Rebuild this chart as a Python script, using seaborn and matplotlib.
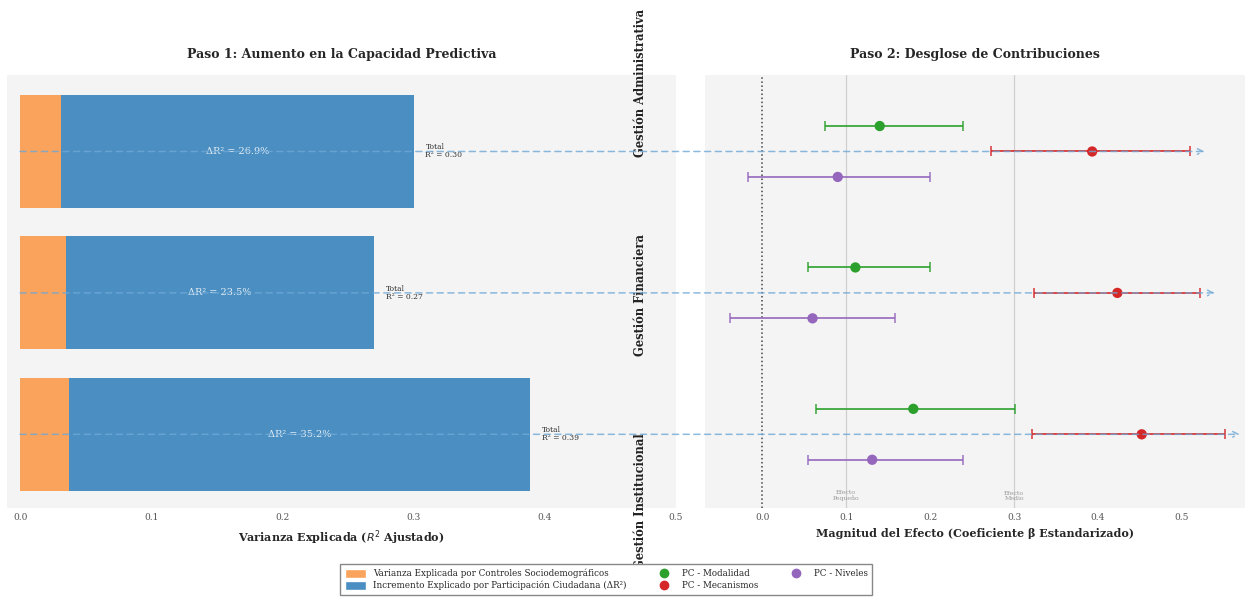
import matplotlib
matplotlib.use("Agg")
import matplotlib.pyplot as plt
from matplotlib.patches import ConnectionPatch, Patch
from matplotlib.lines import Line2D
import seaborn as sns
import pandas as pd
import numpy as np

# ---------------- data ----------------
dimensions = ["Gestión Administrativa", "Gestión Financiera", "Gestión Institucional"]
r2_controls = [0.031, 0.035, 0.037]
r2_total = [0.300, 0.270, 0.389]
delta_labels = ["26.9%", "23.5%", "35.2%"]
total_labels = ["0.30", "0.27", "0.39"]

beta_modalidad = [0.140, 0.111, 0.180]
ci_modalidad_lo = [0.075, 0.055, 0.064]
ci_modalidad_hi = [0.239, 0.200, 0.301]

beta_mecanismos = [0.393, 0.423, 0.452]
ci_mecanismos_lo = [0.273, 0.324, 0.321]
ci_mecanismos_hi = [0.510, 0.521, 0.551]

beta_niveles = [0.090, 0.060, 0.131]
ci_niveles_lo = [-0.017, -0.038, 0.055]
ci_niveles_hi = [0.200, 0.158, 0.239]

arrow_end = [0.527, 0.539, 0.569]

ref_lines = [0.1, 0.3]
ref_labels = ["Efecto\nPequeño", "Efecto\nMedio"]

# ---------------- style ----------------
sns.set_style("white", {"axes.facecolor": "#f4f4f4", "axes.edgecolor": "#f4f4f4"})
plt.rcParams["font.family"] = ["DejaVu Serif"]

C_ORANGE = "#f9a35c"
C_BLUE = "#4a8ec2"
C_GREEN = "#2ca02c"
C_RED = "#d62728"
C_PURPLE = "#9467bd"

fig = plt.figure(figsize=(12.47, 6.01), dpi=100)
ax1 = fig.add_axes([0.0056, 0.155, 0.5365, 0.72])
ax2 = fig.add_axes([0.5654, 0.155, 0.4330, 0.72])

df = pd.DataFrame({"dim": dimensions, "total": r2_total, "ctrl": r2_controls})

sns.barplot(data=df, y="dim", x="total", orient="h", color=C_BLUE,
            width=0.8, ax=ax1, saturation=1)
sns.barplot(data=df, y="dim", x="ctrl", orient="h", color=C_ORANGE,
            width=0.8, ax=ax1, saturation=1)
for p in ax1.patches:
    p.set_edgecolor("none")

for i in range(len(dimensions)):
    mid = (r2_controls[i] + r2_total[i]) / 2
    ax1.text(mid, i, f"ΔR² = {delta_labels[i]}", ha="center", va="center",
             color="white", fontsize=7, alpha=0.85)
    ax1.text(r2_total[i] + 0.009, i, f"Total\nR² = {total_labels[i]}", ha="left",
             va="center", color="#333333", fontsize=5.5, linespacing=1.0)

ax1.set_xlim(-0.01, 0.5)
ax1.set_ylim(2.52, -0.54)
ax1.set_yticks([])
ax1.set_ylabel("")
ax1.set_xticks([0, 0.1, 0.2, 0.3, 0.4, 0.5])
ax1.tick_params(axis="x", labelsize=6.5, colors="#555555", length=0, pad=4)
ax1.set_xlabel("Varianza Explicada ($R^2$ Ajustado)", fontsize=8, fontweight="bold",
               labelpad=4)
ax1.set_title("Paso 1: Aumento en la Capacidad Predictiva", fontsize=9,
              fontweight="bold", pad=12)
ax1.grid(False)
for s in ax1.spines.values():
    s.set_visible(False)

# ---------------- right panel ----------------
off = 0.18
ys = np.arange(len(dimensions))
series = [
    (beta_modalidad, ci_modalidad_lo, ci_modalidad_hi, C_GREEN, -off),
    (beta_mecanismos, ci_mecanismos_lo, ci_mecanismos_hi, C_RED, 0.0),
    (beta_niveles, ci_niveles_lo, ci_niveles_hi, C_PURPLE, off),
]
for vals, lo, hi, col, o in series:
    vals = np.array(vals); lo = np.array(lo); hi = np.array(hi)
    ax2.errorbar(vals, ys + o, xerr=[vals - lo, hi - vals], fmt="none",
                 ecolor=col, elinewidth=1.4, capsize=3.5, capthick=1.2, alpha=0.85,
                 zorder=4)
    sns.scatterplot(x=vals, y=ys + o, color=col, s=55, edgecolor="none",
                    ax=ax2, zorder=5, legend=False)

ax2.axvline(0, color="#444444", ls=":", lw=1.1, zorder=1)
for xv, lab in zip(ref_lines, ref_labels):
    ax2.axvline(xv, color="#cfcfcf", ls="-", lw=0.9, zorder=1)
    ax2.text(xv, 2.47, lab, ha="center", va="bottom", fontsize=4.5,
             color="#999999", linespacing=1.0)

ax2.set_xlim(-0.068, 0.575)
ax2.set_ylim(2.52, -0.54)
ax2.set_yticks([])
ax2.set_xticks([0, 0.1, 0.2, 0.3, 0.4, 0.5])
ax2.tick_params(axis="x", labelsize=6.5, colors="#555555", length=0, pad=4)
ax2.set_xlabel("Magnitud del Efecto (Coeficiente β Estandarizado)", fontsize=8,
               fontweight="bold", labelpad=4)
ax2.set_title("Paso 2: Desglose de Contribuciones", fontsize=9, fontweight="bold",
              pad=12)
ax2.grid(False)
for s in ax2.spines.values():
    s.set_visible(False)

label_y = [0.983, 0.493, 0.015]
for i, name in enumerate(dimensions):
    ax2.text(-0.12, label_y[i], name, transform=ax2.transAxes,
             rotation=90, ha="center", va="center", fontsize=8.3, fontweight="bold",
             color="#222222", zorder=10)

# connecting arrows
for i in range(len(dimensions)):
    con = ConnectionPatch(xyA=(0, i), coordsA=ax1.transData,
                          xyB=(arrow_end[i], i), coordsB=ax2.transData,
                          arrowstyle="->", linestyle=(0, (4, 3)), color="#6fa8d6",
                          lw=1.1, alpha=0.8, mutation_scale=10)
    fig.add_artist(con)

# legend
handles = [
    Patch(facecolor=C_ORANGE, label="Varianza Explicada por Controles Sociodemográficos"),
    Patch(facecolor=C_BLUE, label="Incremento Explicado por Participación Ciudadana (ΔR²)"),
    Line2D([], [], marker="o", ls="none", color=C_GREEN, markersize=6, label="PC - Modalidad"),
    Line2D([], [], marker="o", ls="none", color=C_RED, markersize=6, label="PC - Mecanismos"),
    Line2D([], [], marker="o", ls="none", color=C_PURPLE, markersize=6, label="PC - Niveles"),
]
fig.legend(handles=handles, loc="lower center", bbox_to_anchor=(0.486, 0.003), ncol=3,
           fontsize=6.3, frameon=True, fancybox=False, edgecolor="#888888",
           facecolor="white", framealpha=1,
           columnspacing=3.0, handlelength=2.5, handleheight=1.1,
           borderpad=0.5, labelspacing=0.3)

fig.savefig("out.png", dpi=100)
